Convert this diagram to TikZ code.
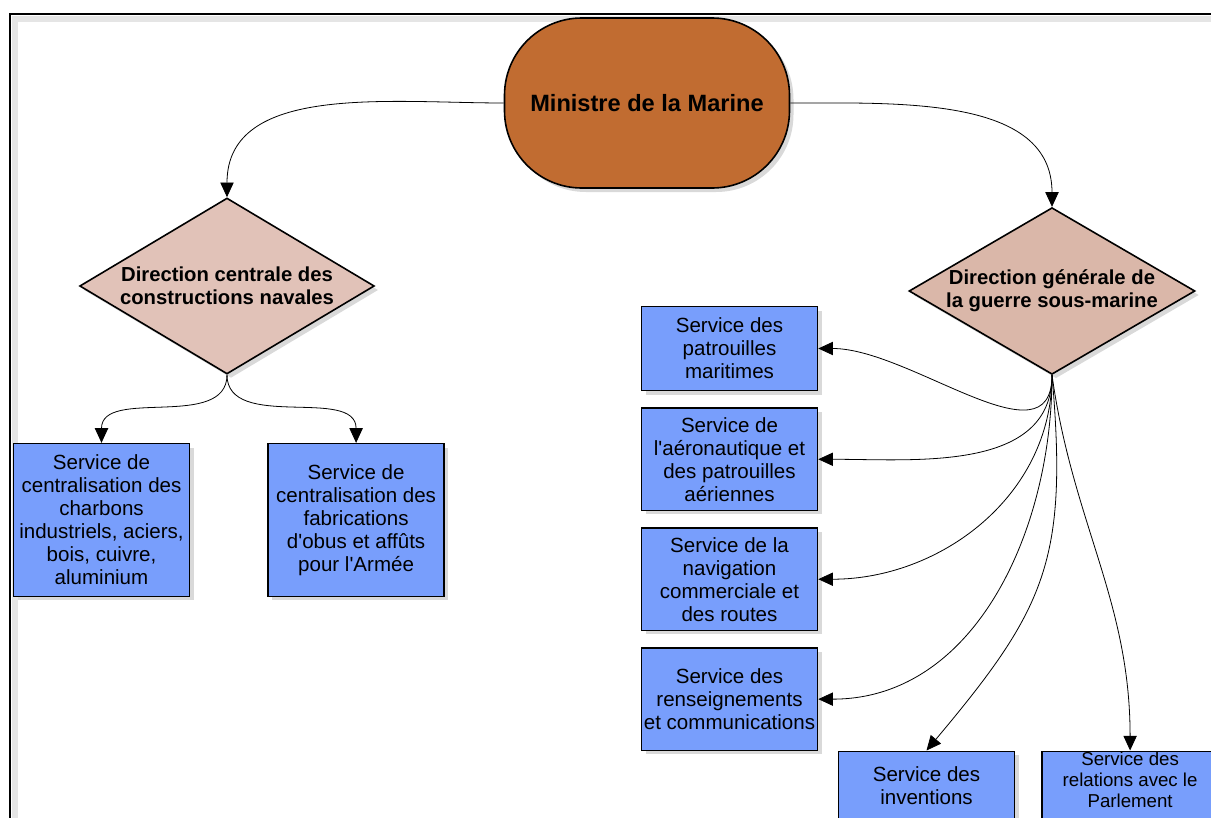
\documentclass[tikz,border=0pt]{standalone}
\usepackage{fontspec}
\setmainfont{Liberation Sans}
\usetikzlibrary{arrows.meta, positioning, shapes.geometric, shadows}

\definecolor{ministrefill}{RGB}{193,108,49}
\definecolor{centralefill}{RGB}{225,194,184}
\definecolor{generalefill}{RGB}{218,183,169}
\definecolor{servicefill}{RGB}{120,158,252}

\begin{document}
\begin{tikzpicture}[
            x = 0.75pt, y = -0.75pt, % one unit = one pixel, y downwards
            > = {Triangle[length=11pt, width=10pt]}, % arrow head style
            shorten > = 0pt,
            semithick % line style
        ]

        \tikzstyle{shade}=[
            drop shadow = {shadow xshift=3pt, shadow yshift=-3pt, opacity=0.3}
        ]
        \tikzstyle{minister}=[
            rectangle, rounded corners = 58pt,
            draw = black, line width = 1.2pt,
            fill = ministrefill, shade,
            minimum width = 213.75pt, minimum height = 127.5pt,
            font = \fontsize{17.7}{21}\selectfont\bfseries
        ]
        \tikzstyle{dirbox}=[
            diamond, aspect = 1.7, inner sep = 0pt,
            draw = black, line width = 1.2pt, shade,
            align = center,
            font = \fontsize{15.2}{17.25}\selectfont\bfseries
        ]
        \tikzstyle{service}=[
            rectangle, draw = black, line width = 1.2pt,
            fill = servicefill, shade,
            inner sep = 1pt, align = center,
            minimum width = 132pt,
            font = \fontsize{15.4}{17.25}\selectfont
        ]

        \clip (0,0) rectangle (1211,818);

        % frame
        \draw[black!10, line width = 5pt] (15,900) |- (1300,19);
        \draw[line width = 2.2pt] (10,14) rectangle (1300,900);

        \node[minister] (ministre) at (647,103) {Ministre de la Marine};

        \node[dirbox, fill = centralefill, minimum width = 221pt, minimum height = 132pt]
            (centrale) at (227,286) {Direction centrale des\\constructions navales};
        \node[dirbox, fill = generalefill, minimum width = 214.5pt, minimum height = 124.5pt]
            (generale) at (1052,291) {Direction générale de\\la guerre sous-marine};

        \node[service, minimum height = 114.5pt] (charbons) at (101.5,520)
            {Service de\\centralisation des\\charbons\\industriels, aciers,\\bois, cuivre,\\aluminium};
        \node[service, minimum height = 114.5pt, right = 57.75pt of charbons] (obus)
            {Service de\\centralisation des\\fabrications\\d\textquotesingle obus et affûts\\pour l\textquotesingle Armée};

        \node[service, minimum height = 63pt] (patrouilles) at (729.5,348.5)
            {Service des\\patrouilles\\maritimes};
        \node[service, minimum height = 76.75pt, below = 12pt of patrouilles] (aero)
            {Service de\\l\textquotesingle aéronautique et\\des patrouilles\\aériennes};
        \node[service, minimum height = 76.75pt, below = 12pt of aero] (navigation)
            {Service de la\\navigation\\commerciale et\\des routes};
        \node[service, minimum height = 76.75pt, below = 12pt of navigation] (renseignements)
            {Service des\\renseignements\\et communications};

        \node[service, minimum height = 51pt, anchor = north] (inventions) at (926.5,750.5)
            {Service des\\inventions};
        \node[service, right = 19.5pt of inventions.north east, anchor = north west,
              inner sep = 0.5pt, text depth = 26pt,
              font = \fontsize{14}{15.75}\selectfont] (parlement)
            {Service des\\relations avec le\\Parlement};

        \draw[->] (ministre.west) to[out=180, in=90] (centrale.north);
        \draw[->] (ministre.east) to[out=0, in=90] (generale.north);

        \draw[->] (centrale.south) to[out=-90, in=90] (charbons.north);
        \draw[->] (centrale.south) to[out=-90, in=90] (obus.north);

        \draw[->] (generale.south) to[out=-90, in=0] (patrouilles.east);
        \draw[->] (generale.south) to[out=-90, in=0] (aero.east);
        \draw[->] (generale.south) to[out=-90, in=0] (navigation.east);
        \draw[->] (generale.south) to[out=-90, in=0] (renseignements.east);
        \draw[->] (generale.south) to[out=-85, in=50, looseness=1.2] (inventions.north);
        \draw[->] (generale.south) to[out=-82, in=90] (parlement.north);
    \end{tikzpicture}
\end{document}
